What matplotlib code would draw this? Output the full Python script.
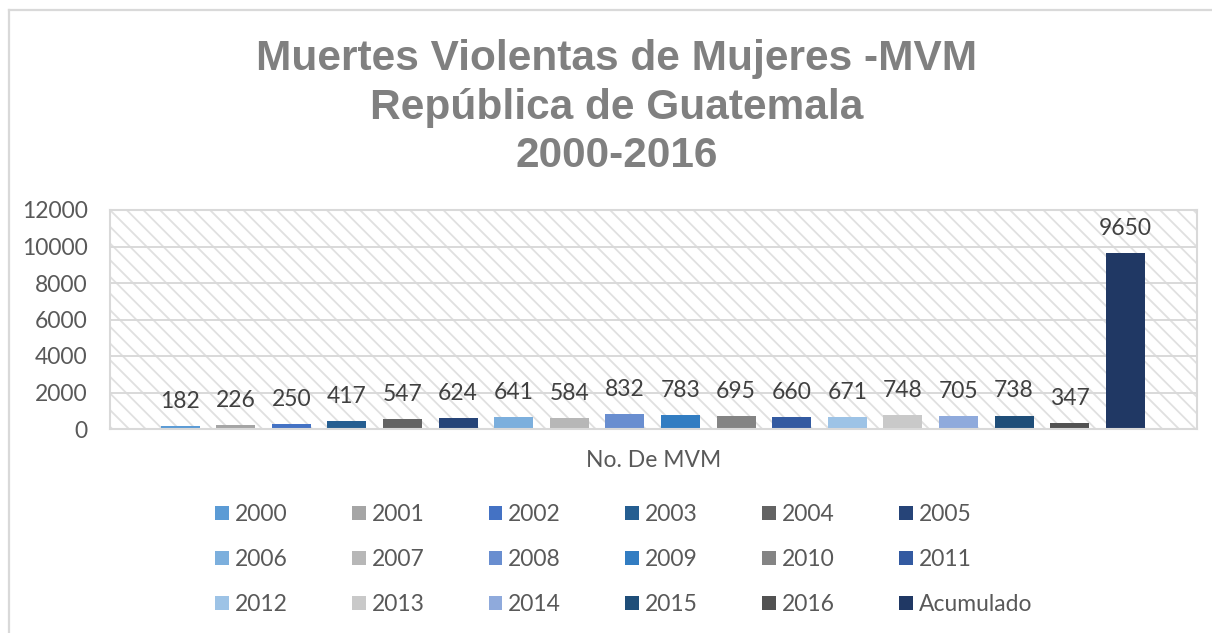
import matplotlib
matplotlib.use("Agg")
from matplotlib import pyplot as plt
from matplotlib.patches import Rectangle
from matplotlib.lines import Line2D

series_names = ['2000', '2001', '2002', '2003', '2004', '2005', '2006', '2007', '2008',
                '2009', '2010', '2011', '2012', '2013', '2014', '2015', '2016', 'Acumulado']
mvm_counts = [182, 226, 250, 417, 547, 624, 641, 584, 832,
              783, 695, 660, 671, 748, 705, 738, 347, 9650]
bar_colors = ['#5B9BD5', '#A5A5A5', '#4472C4', '#255E91', '#636363', '#264478',
              '#7CAFDD', '#B7B7B7', '#698ED0', '#327DC2', '#848484', '#335AA1',
              '#9DC3E6', '#C9C9C9', '#8FAADC', '#1F4E79', '#525252', '#203864']
y_ticks = [0, 2000, 4000, 6000, 8000, 10000, 12000]
title_lines = ['Muertes Violentas de Mujeres -MVM', 'República de Guatemala', '2000-2016']
x_label = 'No. De MVM'

plt.rcParams['font.family'] = ['Lato', 'DejaVu Sans']
plt.rcParams['hatch.linewidth'] = 1.3

W, H = 1212, 633
fs = 16.5
fig = plt.figure(figsize=(W / 100, H / 100), dpi=100)
ax = fig.add_axes([110 / W, 1 - 429 / H, (1197 - 110) / W, (429 - 210) / H])

# hatched plot area background
bg = Rectangle((0, 0), 1, 1, transform=ax.transAxes, facecolor='white',
               edgecolor='#E0E0E0', hatch='\\\\', lw=0, zorder=0)
ax.add_patch(bg)

handles = []
for i, (name, val, col) in enumerate(zip(series_names, mvm_counts, bar_colors)):
    b = ax.bar(i, val, width=0.7, color=col, label=name, zorder=2)
    handles.append(b)
    ax.annotate(str(val), (i, val), xytext=(0, 13), textcoords='offset points',
                ha='center', va='baseline', fontsize=fs, color='#404040', zorder=3)

ax.set_xlim(-1.26, 17 + 1.29)
ax.set_ylim(0, 12000)
ax.set_yticks(y_ticks)
ax.set_yticklabels([str(t) for t in y_ticks])
ax.set_xticks([])
ax.tick_params(axis='y', length=0, pad=16, labelsize=fs, labelcolor='#595959')
ax.grid(axis='y', color='#D9D9D9', lw=1.4, zorder=1)
ax.set_axisbelow(True)
for s in ax.spines.values():
    s.set_color('#D9D9D9')
    s.set_linewidth(1.5)
ax.set_xlabel(x_label, fontsize=fs, color='#595959', labelpad=15)

# title, three lines
baselines = [70, 119, 167]
for txt, yb in zip(title_lines, baselines):
    fig.text(617 / W, 1 - yb / H, txt, ha='center', va='baseline', fontsize=30.5,
             fontweight='bold', color='#808080', family=['Liberation Sans', 'DejaVu Sans'])

# legend in row-major order
order = [r * 6 + c for c in range(6) for r in range(3)]
leg = fig.legend([handles[k] for k in order], [series_names[k] for k in order],
                 ncol=6, loc='upper left', bbox_to_anchor=(215 / W, 1 - 504 / H),
                 frameon=False, fontsize=fs, handlelength=0.61, handleheight=0.61,
                 handletextpad=0.25, columnspacing=2.8, labelspacing=1.05,
                 borderaxespad=0, borderpad=0)
for t in leg.get_texts():
    t.set_color('#595959')

# chart area border (top and left visible)
fig.add_artist(Line2D([8.5 / W, 8.5 / W], [0, 1 - 9.5 / H], transform=fig.transFigure,
                      color='#D9D9D9', lw=1.6))
fig.add_artist(Line2D([8.5 / W, 1], [1 - 9.5 / H, 1 - 9.5 / H], transform=fig.transFigure,
                      color='#D9D9D9', lw=1.6))

fig.savefig('out.png', dpi=100)
